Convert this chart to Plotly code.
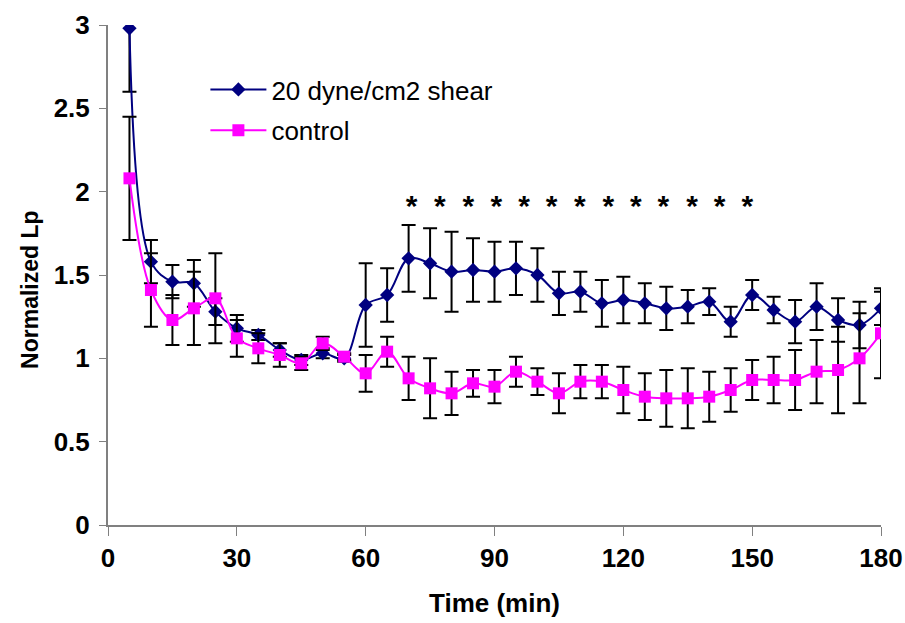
import plotly.graph_objects as go

time_min = [5, 10, 15, 20, 25, 30, 35, 40, 45, 50, 55, 60, 65, 70, 75, 80, 85, 90,
            95, 100, 105, 110, 115, 120, 125, 130, 135, 140, 145, 150, 155, 160, 165, 170, 175, 180]

shear = [2.98, 1.58, 1.46, 1.45, 1.28, 1.18, 1.14, 1.05, 0.99, 1.03, 1.00, 1.32, 1.38, 1.60, 1.57, 1.52, 1.53, 1.52,
         1.54, 1.50, 1.39, 1.40, 1.33, 1.35, 1.33, 1.30, 1.31, 1.34, 1.22, 1.38, 1.29, 1.22, 1.31, 1.23, 1.20, 1.30]
shear_err = [0.38, 0.13, 0.10, 0.14, 0.08, 0.08, 0.03, 0.04, 0.03, 0.03, 0.02, 0.25, 0.16, 0.20, 0.21, 0.24, 0.19, 0.18,
             0.16, 0.16, 0.13, 0.12, 0.14, 0.14, 0.12, 0.13, 0.10, 0.08, 0.09, 0.09, 0.08, 0.13, 0.14, 0.13, 0.14, 0.10]

control = [2.08, 1.41, 1.23, 1.30, 1.36, 1.12, 1.06, 1.02, 0.97, 1.09, 1.01, 0.91, 1.04, 0.88, 0.82, 0.79, 0.85, 0.83,
           0.92, 0.86, 0.79, 0.86, 0.86, 0.81, 0.77, 0.76, 0.76, 0.77, 0.81, 0.87, 0.87, 0.87, 0.92, 0.93, 1.00, 1.15]
control_err = [0.37, 0.22, 0.15, 0.22, 0.27, 0.11, 0.09, 0.07, 0.04, 0.04, 0.02, 0.11, 0.09, 0.13, 0.18, 0.13, 0.08, 0.10,
               0.09, 0.08, 0.12, 0.10, 0.10, 0.14, 0.14, 0.17, 0.18, 0.15, 0.13, 0.12, 0.14, 0.18, 0.19, 0.26, 0.27, 0.27]

sig_times = [70.7, 77.3, 83.9, 90.4, 96.9, 103.3, 109.9, 116.5, 122.9, 129.3, 136.0, 142.4, 148.9]
sig_level = 1.90

x_ticks = [0, 30, 60, 90, 120, 150, 180]
y_ticks = [0, 0.5, 1, 1.5, 2, 2.5, 3]

FONT = "Liberation Sans, Arial, sans-serif"

fig = go.Figure()

err_style = dict(type="data", visible=True, color="black", thickness=2, width=7)

fig.add_trace(go.Scatter(
    x=time_min, y=shear, name="20 dyne/cm2 shear", legendgroup="a",
    mode="lines+markers",
    line=dict(color="#000080", width=2, shape="spline", smoothing=1),
    marker=dict(symbol="diamond", size=11, color="#000080"),
    error_y=dict(array=shear_err, **err_style),
))
fig.add_trace(go.Scatter(
    x=time_min, y=control, name="control", legendgroup="b",
    mode="lines+markers",
    line=dict(color="#FF00FF", width=2, shape="spline", smoothing=1),
    marker=dict(symbol="square", size=12, color="#FF00FF"),
    error_y=dict(array=control_err, **err_style),
))
fig.add_trace(go.Scatter(
    x=sig_times, y=[sig_level] * len(sig_times), mode="text",
    text=["*"] * len(sig_times), textposition="middle center",
    textfont=dict(family=FONT, size=30, color="black", weight="bold"),
    showlegend=False, hoverinfo="skip", cliponaxis=False,
))

fig.update_layout(
    width=905, height=623,
    margin=dict(l=108, r=24, t=25, b=98),
    paper_bgcolor="white", plot_bgcolor="white",
    font=dict(family=FONT, color="black"),
    showlegend=True,
    legend=dict(
        x=0.126, y=0.918, xanchor="left", yanchor="top",
        bgcolor="rgba(0,0,0,0)", borderwidth=0,
        font=dict(family=FONT, size=26, color="black"),
        itemwidth=56, traceorder="grouped", tracegroupgap=4,
    ),
    xaxis=dict(
        range=[0, 180], tickvals=x_ticks, ticktext=[str(v) for v in x_ticks],
        showgrid=False, zeroline=False,
        showline=True, linecolor="#808080", linewidth=2,
        ticks="outside", ticklen=9, tickcolor="#808080", tickwidth=1,
        tickfont=dict(family=FONT, size=26, color="black", weight="bold"),
        title=dict(text="<b>Time (min)</b>", font=dict(family=FONT, size=26, color="black"), standoff=22),
        automargin=False,
    ),
    yaxis=dict(
        range=[0, 3], tickvals=y_ticks, ticktext=["0", "0.5", "1", "1.5", "2", "2.5", "3"],
        showgrid=False, zeroline=False,
        showline=True, linecolor="#808080", linewidth=2,
        ticks="outside", ticklen=7, tickcolor="#808080", tickwidth=1,
        ticklabelstandoff=4,
        tickfont=dict(family=FONT, size=26, color="black", weight="bold"),
        automargin=False,
    ),
    annotations=[dict(
        text="<b>Normalized Lp</b>", textangle=-90,
        xref="paper", yref="paper", x=-0.101, y=0.47,
        xanchor="center", yanchor="middle", showarrow=False,
        font=dict(family=FONT, size=23, color="black"),
    )],
)

fig.write_html("out.html")
